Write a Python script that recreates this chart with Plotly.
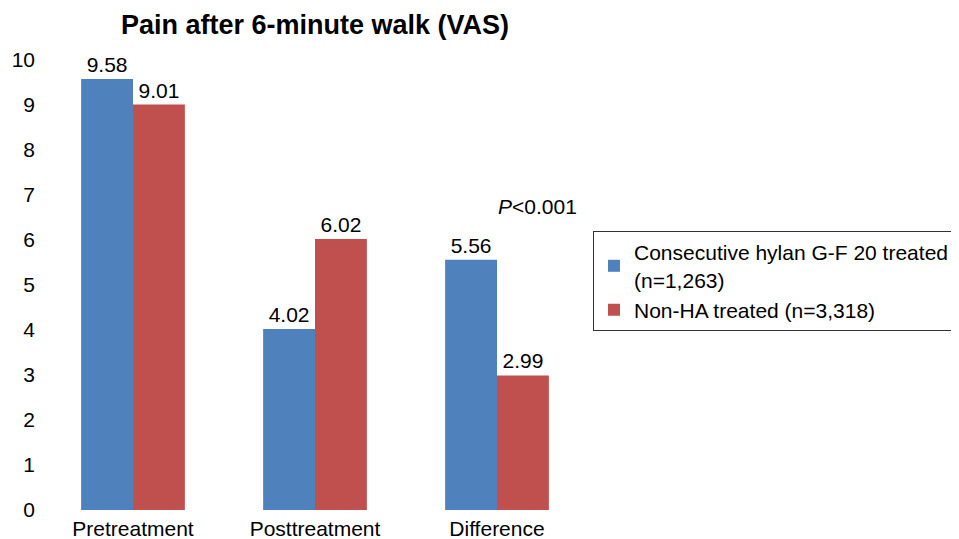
import plotly.graph_objects as go

categories = ["Pretreatment", "Posttreatment", "Difference"]
hylan_values = [9.58, 4.02, 5.56]
nonha_values = [9.01, 6.02, 2.99]
series_names = ["Consecutive hylan G-F 20 treated<br>(n=1,263)", "Non-HA treated (n=3,318)"]
y_ticks = list(range(0, 11))

font_family = "Liberation Sans, Arial, sans-serif"
fs = 21

# the page body has an 8px margin; size the figure so the page fits the window
W, H = 951, 531
L, T = 34, 52
PW, PH = 546, 450

fig = go.Figure()
fig.add_trace(go.Bar(
    x=categories, y=hylan_values, name=series_names[0],
    marker=dict(color="#4F81BD", line=dict(width=0)),
    text=[f"{v:.2f}" for v in hylan_values], textposition="outside",
    textfont=dict(size=fs, color="black", family=font_family),
    cliponaxis=False,
))
fig.add_trace(go.Bar(
    x=categories, y=nonha_values, name=series_names[1],
    marker=dict(color="#C0504D", line=dict(width=0)),
    text=[f"{v:.2f}" for v in nonha_values], textposition="outside",
    textfont=dict(size=fs, color="black", family=font_family),
    cliponaxis=False,
))

fig.add_annotation(
    x=2.225, y=6.75, xref="x", yref="y",
    text="<i>P</i><0.001", showarrow=False,
    font=dict(size=fs, color="black", family=font_family),
)

fig.update_layout(
    width=W, height=H,
    margin=dict(l=L, r=W - L - PW, t=T, b=H - T - PH, autoexpand=False),
    paper_bgcolor="white", plot_bgcolor="white",
    barmode="group", bargap=0.43, bargroupgap=0,
    font=dict(family=font_family, size=fs, color="black"),
    title=dict(
        text="<b>Pain after 6-minute walk (VAS)</b>",
        x=(L + PW / 2) / W, xanchor="center",
        y=1 - 17 / H, yanchor="middle",
        font=dict(size=27, color="black", family=font_family),
    ),
    xaxis=dict(showline=False, showgrid=False, ticks="", zeroline=False,
               automargin=False, ticklabelstandoff=4,
               tickfont=dict(size=fs, color="black")),
    yaxis=dict(range=[0, 10], tickvals=y_ticks, showline=False, showgrid=False,
               zeroline=False, ticks="", automargin=False, ticklabelstandoff=6,
               tickfont=dict(size=fs, color="black")),
    legend=dict(
        x=(585 - L) / PW, xanchor="left",
        y=(T + PH - 223) / PH, yanchor="top",
        bordercolor="#333333", borderwidth=1,
        font=dict(size=fs, color="black"),
        itemsizing="constant", tracegroupgap=8,
    ),
    showlegend=True,
)

fig.write_html("out.html")
